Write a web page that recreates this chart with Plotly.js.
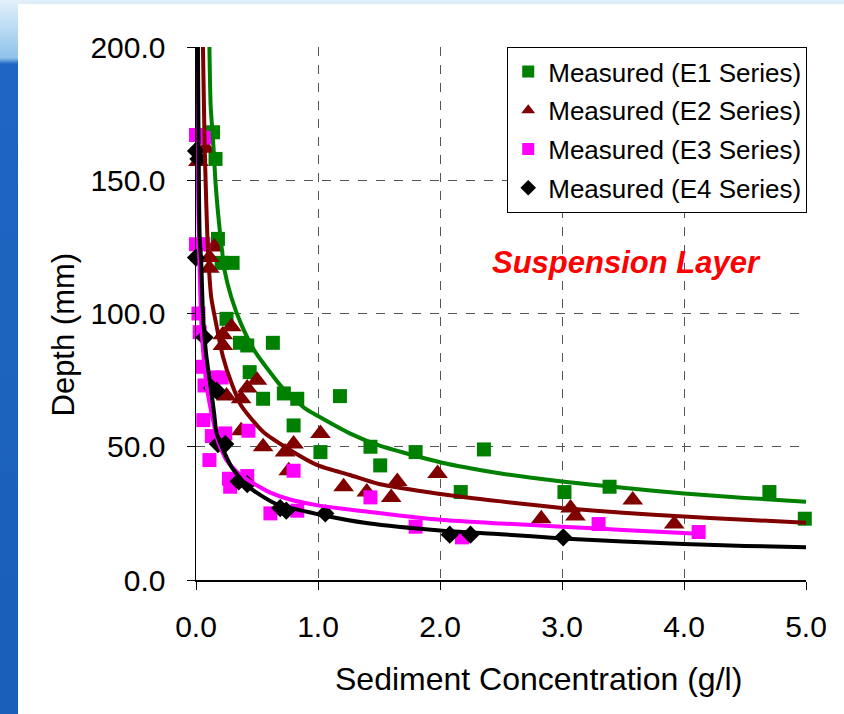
<!DOCTYPE html>
<html>
<head>
<meta charset="utf-8">
<script src="https://cdn.plot.ly/plotly-3.0.1.min.js"></script>
<style>
  html, body { margin: 0; padding: 0; width: 844px; height: 714px; overflow: hidden; }
  body { background: linear-gradient(to bottom, #e2f0fa 0px, #a9d2f0 40px, #8fc2ea 58px, #1e66c2 64px, #1a5fba 100%); position: relative; }
  #chart { position: absolute; left: 18px; top: 4px; width: 826px; height: 710px; background: #ffffff; }
</style>
</head>
<body>
<div id="chart"></div>
<script>
// Measured data (Sediment concentration g/l, Depth mm)
const e1X = [0.14,0.16,0.18,0.21,0.30,0.25,0.36,0.42,0.63,0.44,0.55,0.72,0.83,1.18,0.80,1.02,1.43,1.51,1.80,2.36,2.17,3.02,3.39,4.70,4.99];
const e1Y = [168,158,128,119,119,98,89,88,89,78,68,70,68,69,58,48,50,43,48,49,33,33,35,33,23];

const e2X = [0.02,0.08,0.15,0.11,0.11,0.29,0.22,0.22,0.50,0.42,0.37,0.25,0.37,0.55,0.73,0.80,0.76,1.02,1.21,1.40,1.60,1.65,1.98,2.83,3.07,3.11,3.58,3.92];
const e2Y = [157,162,125,121,117,95,92,88,75,72,68,69,56,50,48,51,41,55,35,33,31,37,40,23,27,24,30,21];

const e3X = [0.00,0.08,0.00,0.06,0.02,0.03,0.05,0.07,0.21,0.06,0.13,0.11,0.24,0.43,0.28,0.42,0.27,0.61,0.83,0.80,1.43,1.80,2.18,3.30,4.12,0.15];
const e3Y = [167,166,126,126,100,93,80,73,76,60,54,45,55,56,35,39,38,25,26,41,31,20,16,21,18,76];

const e4X = [0.00,0.02,0.00,0.07,0.13,0.17,0.18,0.24,0.35,0.42,0.69,0.74,1.06,2.08,2.25,3.01];
const e4Y = [161,158,121,91,72,71,51,51,37,36,27,26,25,17,17,16];

// Fitted curves
const fit1X = [0.11,0.12,0.14,0.16,0.18,0.20,0.235,0.29,0.37,0.48,0.59,0.73,0.89,1.0,1.26,1.5,2.0,2.5,3.0,3.5,4.0,4.5,5.0];
const fit1Y = [200,178,165,149,138,129,116,106,96,86,79,71,64.5,61.5,55,50.5,44.2,40,37,34.6,32.5,30.8,29.4];

const fit2X = [0.057,0.07,0.085,0.10,0.125,0.17,0.22,0.29,0.37,0.55,0.77,1.0,1.26,1.5,2.0,2.5,3.0,3.5,4.0,4.5,5.0];
const fit2Y = [200,165,140,122,106,95,84,74,65.5,55.6,48.8,43,39.4,36,32.3,29.5,27,25.2,23.8,22.6,21.5];

const fit3X = [0.005,0.012,0.025,0.04,0.06,0.09,0.13,0.18,0.25,0.35,0.48,0.6,0.75,1.0,1.41,2.0,2.5,3.0,3.5,4.12];
const fit3Y = [200,160,125,100,85,72,62,52,45,40,36,33,30.5,28,25.6,22.6,21.2,20,18.8,17.4];

const fit4X = [0.016,0.03,0.043,0.057,0.085,0.125,0.15,0.17,0.29,0.43,0.645,1.03,1.41,2.0,2.5,3.0,3.5,4.0,4.5,5.0];
const fit4Y = [200,129,119,100,84,71,62,55,42.5,35,28.8,24.4,21.3,18.6,17.2,15.6,14.4,13.5,12.8,12.3];

const seriesNames = ['Measured (E1 Series)','Measured (E2 Series)','Measured (E3 Series)','Measured (E4 Series)'];
const colors = ['#008000','#800000','#ff00ff','#000000'];

const FONT = 'Liberation Sans, Arial, sans-serif';

const markers = [
  {x:e1X, y:e1Y, symbol:'square', size:14},
  {x:e2X, y:e2Y, symbol:'triangle-up', size:18},
  {x:e3X, y:e3Y, symbol:'square', size:14},
  {x:e4X, y:e4Y, symbol:'diamond', size:14}
];
const fits = [[fit1X,fit1Y],[fit2X,fit2Y],[fit3X,fit3Y],[fit4X,fit4Y]];

const traces = [];
markers.forEach((m,i) => {
  traces.push({
    type:'scatter', mode:'markers', name:seriesNames[i], x:m.x, y:m.y,
    legendgroup:'g'+i, cliponaxis:false,
    marker:{symbol:m.symbol, size:m.size, color:colors[i], line:{width:0}}
  });
});
fits.forEach((f,i) => {
  traces.push({
    type:'scatter', mode:'lines', x:f[0], y:f[1], showlegend:false, hoverinfo:'skip',
    legendgroup:'g'+i,
    line:{color:colors[i], width:4, shape:'spline', smoothing:0.6}
  });
});

const layout = {
  width: 826, height: 710,
  margin: {l:178, r:38, t:43, b:134},
  paper_bgcolor:'#ffffff', plot_bgcolor:'#ffffff',
  font:{family:FONT, color:'#000000'},
  showlegend:true,
  legend:{
    x:1.002, xanchor:'right', y:1.0, yanchor:'top',
    bgcolor:'#ffffff', bordercolor:'#000000', borderwidth:1,
    font:{family:FONT, size:26, color:'#000000'},
    itemsizing:'constant', traceorder:'grouped', tracegroupgap:2
  },
  xaxis:{
    range:[0,5], dtick:1, tick0:0, tickformat:'.1f',
    showline:true, linecolor:'#000000', linewidth:1.5,
    ticks:'outside', ticklen:8, tickcolor:'#000000', ticklabelstandoff:11,
    showgrid:true, gridcolor:'#555555', griddash:'dash', gridwidth:1,
    zeroline:false,
    tickfont:{family:FONT, size:30, color:'#000000'},
    fixedrange:true
  },
  yaxis:{
    range:[0,200], dtick:50, tick0:0, tickformat:'.1f',
    showline:true, linecolor:'#000000', linewidth:1.5,
    ticks:'outside', ticklen:8, tickcolor:'#000000', ticklabelstandoff:15,
    showgrid:true, gridcolor:'#555555', griddash:'dash', gridwidth:1,
    zeroline:false,
    tickfont:{family:FONT, size:30, color:'#000000'},
    fixedrange:true
  },
  annotations:[
    {text:'Suspension Layer', x:3.53, y:119.3, xref:'x', yref:'y', showarrow:false,
     xanchor:'center', yanchor:'middle',
     font:{family:FONT, size:31, color:'#ff0000', weight:'bold', style:'italic'}},
    {text:'Sediment Concentration (g/l)', x:0.561, y:0, xref:'paper', yref:'paper',
     yshift:-99, showarrow:false, xanchor:'center', yanchor:'middle',
     font:{family:FONT, size:32, color:'#000000'}},
    {text:'Depth (mm)', x:0, y:0.5, xref:'paper', yref:'paper', textangle:-90,
     xshift:-133, yshift:-21, showarrow:false, xanchor:'center', yanchor:'middle',
     font:{family:FONT, size:31, color:'#000000'}}
  ]
};

Plotly.newPlot('chart', traces, layout, {displayModeBar:false, staticPlot:true});
</script>
</body>
</html>
